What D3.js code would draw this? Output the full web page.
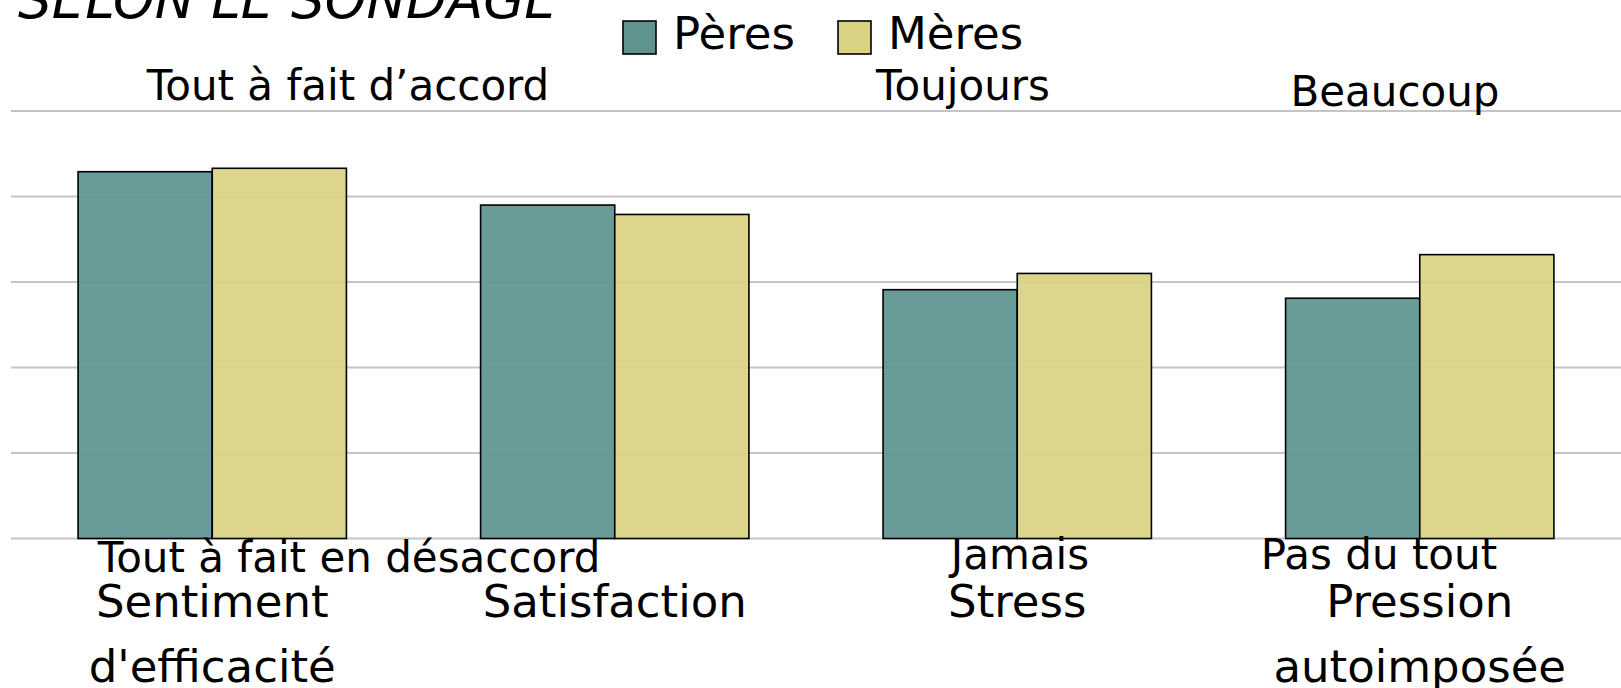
<!DOCTYPE html>
<html>
<head>
<meta charset="utf-8">
<script src="https://cdn.jsdelivr.net/npm/d3@7"></script>
<style>
  body { margin: 0; background: #fff; }
  text { font-family: "DejaVu Sans", sans-serif; fill: #000; }
</style>
</head>
<body>
<div id="chart"></div>
<script>
'use strict';

// data
var categories = [["Sentiment", "d'efficacité"], ["Satisfaction"], ["Stress"], ["Pression", "autoimposée"]]
var series = ['Pères', 'Mères']
var peres = [4.29, 3.90, 2.91, 2.81]
var meres = [4.33, 3.79, 3.10, 3.32]
var topLabels = ['Tout à fait d’accord', 'Toujours', 'Beaucoup']
var bottomLabels = ['Tout à fait en désaccord', 'Jamais', 'Pas du tout']
var yTicks = [0, 1, 2, 3, 4, 5]

var width = 1621, height = 688
var colors = {'Pères': '#5e9390', 'Mères': '#d8d382'}

var svg = d3.select('#chart').append('svg')
    .attr('width', width)
    .attr('height', height)

var x = d3.scaleBand()
    .domain(d3.range(categories.length))
    .range([11, 1621])
    .paddingInner(1/3)
    .paddingOuter(1/6)

var xs = d3.scaleBand()
    .domain(series)
    .range([0, x.bandwidth()])

var y = d3.scaleLinear()
    .domain([0, 5])
    .range([538.5, 111])

// grid
svg.append('g').selectAll('line')
    .data(yTicks)
  .enter().append('line')
    .attr('x1', 11)
    .attr('x2', width)
    .attr('y1', function(d){ return y(d) })
    .attr('y2', function(d){ return y(d) })
    .attr('stroke', '#c4c4c4')
    .attr('stroke-width', 2)

// bars
var rows = categories.map(function(c, i){
  return [{s: 'Pères', v: peres[i], i: i}, {s: 'Mères', v: meres[i], i: i}]
})

svg.append('g').selectAll('g')
    .data(rows)
  .enter().append('g')
    .attr('transform', function(d, i){ return 'translate(' + x(i) + ',0)' })
  .selectAll('rect')
    .data(function(d){ return d })
  .enter().append('rect')
    .attr('x', function(d){ return xs(d.s) })
    .attr('y', function(d){ return y(d.v) })
    .attr('width', xs.bandwidth())
    .attr('height', function(d){ return y(0) - y(d.v) })
    .attr('fill', function(d){ return colors[d.s] })
    .attr('fill-opacity', 0.93)
    .attr('stroke', '#000')
    .attr('stroke-width', 1.6)

// category labels
svg.append('g').selectAll('text')
    .data(categories)
  .enter().append('text')
    .attr('text-anchor', 'middle')
    .attr('font-size', 45)
    .attr('x', function(d, i){ return x(i) + x.bandwidth() / 2 })
    .attr('y', 617)
    .each(function(d){
      var t = d3.select(this)
      var xx = t.attr('x')
      d.forEach(function(line, k){
        t.append('tspan').attr('x', xx).attr('dy', k ? 65 : 0).text(line)
      })
    })

// scale anchor labels
var topPos = [[348, 100], [963, 100], [1395, 106]]
var botPos = [[349, 572], [1020, 569], [1379, 569]]

svg.append('g').selectAll('text')
    .data(topLabels)
  .enter().append('text')
    .attr('text-anchor', 'middle')
    .attr('font-size', 42)
    .attr('x', function(d, i){ return topPos[i][0] })
    .attr('y', function(d, i){ return topPos[i][1] })
    .text(function(d){ return d })

svg.append('g').selectAll('text')
    .data(bottomLabels)
  .enter().append('text')
    .attr('text-anchor', 'middle')
    .attr('font-size', 42)
    .attr('x', function(d, i){ return botPos[i][0] })
    .attr('y', function(d, i){ return botPos[i][1] })
    .text(function(d){ return d })

// title (cut off at the top)
svg.append('text')
    .attr('x', 18)
    .attr('y', 18)
    .attr('font-size', 53)
    .attr('font-style', 'italic')
    .text('SELON LE SONDAGE')

// legend
var legend = svg.append('g').selectAll('g')
    .data(series)
  .enter().append('g')
    .attr('transform', function(d, i){ return 'translate(' + (623 + i * 215) + ',21)' })

legend.append('rect')
    .attr('width', 33)
    .attr('height', 33)
    .attr('fill', function(d){ return colors[d] })
    .attr('stroke', '#000')
    .attr('stroke-width', 1.6)

legend.append('text')
    .attr('x', 50)
    .attr('y', 28)
    .attr('font-size', 45)
    .text(function(d){ return d })
</script>
</body>
</html>
